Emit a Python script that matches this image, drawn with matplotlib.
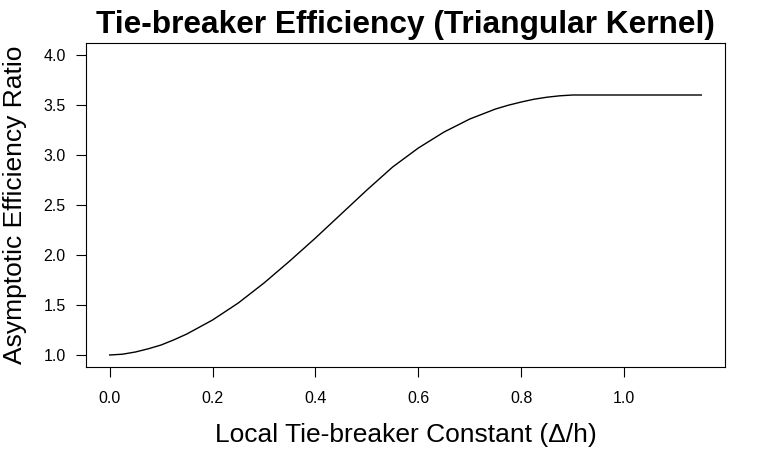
import matplotlib
matplotlib.use("Agg")
import matplotlib.pyplot as plt

# curve values (x = Delta/h, y = efficiency ratio)
delta_h = [0.000, 0.025, 0.050, 0.075, 0.100, 0.125, 0.150, 0.200, 0.250,
           0.300, 0.350, 0.400, 0.450, 0.500, 0.550, 0.600, 0.650, 0.700,
           0.750, 0.775, 0.800, 0.825, 0.850, 0.875, 0.900, 0.950, 1.000,
           1.050, 1.100, 1.150]
eff_ratio = [1.000, 1.008, 1.030, 1.062, 1.100, 1.152, 1.210, 1.350, 1.520,
             1.720, 1.940, 2.170, 2.410, 2.650, 2.880, 3.070, 3.230, 3.360,
             3.460, 3.498, 3.530, 3.558, 3.578, 3.592, 3.600, 3.600, 3.600,
             3.600, 3.600, 3.600]

x_ticks = [0.0, 0.2, 0.4, 0.6, 0.8, 1.0]
y_ticks = [1.0, 1.5, 2.0, 2.5, 3.0, 3.5, 4.0]

plt.rcParams["font.family"] = ["Liberation Sans", "DejaVu Sans"]

W, H = 770, 475
fig = plt.figure(figsize=(W / 100, H / 100), dpi=100)
left, right, top, bottom = 86, 725, 43, 367
ax = fig.add_axes([left / W, 1 - bottom / H, (right - left) / W, (bottom - top) / H])

ax.plot(delta_h, eff_ratio, color="black", lw=1.0)

# R-style 4% padding around the data range
ax.set_xlim(-0.046, 1.196)
ax.set_ylim(0.88, 4.12)
ax.set_xticks(x_ticks)
ax.set_yticks(y_ticks)
ax.set_xticklabels([f"{v:.1f}" for v in x_ticks])
ax.set_yticklabels([f"{v:.1f}" for v in y_ticks])
ax.tick_params(axis="both", direction="out", length=7.2, width=0.8, labelsize=11.5)
ax.tick_params(axis="x", pad=10)
ax.tick_params(axis="y", pad=7.5)
for s in ax.spines.values():
    s.set_linewidth(0.8)

cx = (left + right) / 2 / W
fig.text(cx, 1 - 33 / H, "Tie-breaker Efficiency (Triangular Kernel)",
         ha="center", va="baseline", fontsize=22.75, fontweight="bold")
fig.text(cx, 1 - 442 / H, "Local Tie-breaker Constant (\u0394/h)",
         ha="center", va="baseline", fontsize=19)
fig.text(21.7 / W, 1 - 205 / H, "Asymptotic Efficiency Ratio",
         ha="center", va="baseline", rotation=90, rotation_mode="anchor", fontsize=19)

fig.savefig("out.png", dpi=100)
